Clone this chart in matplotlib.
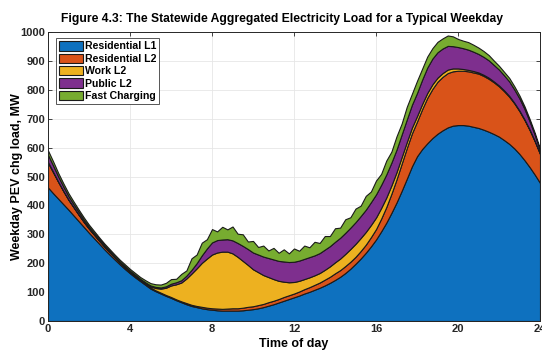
import numpy as np
import matplotlib
matplotlib.use("Agg")
import matplotlib.pyplot as plt

plt.rcParams['font.family'] = ['Liberation Sans', 'DejaVu Sans']
plt.rcParams['font.weight'] = 'bold'

# time of day, 15-minute steps
hours = np.arange(0, 24.01, 0.25)

residential_l1 = [
    462, 442, 423, 404, 385, 365, 345, 325, 305, 286, 267, 248, 230, 213, 196, 180,
    165, 151, 138, 125, 112, 103, 95, 87, 80, 72, 65, 58, 52, 48, 44, 41,
    39, 37, 36, 36, 36, 36, 37, 39, 41, 44, 48, 53, 58, 64, 70, 76,
    82, 88, 95, 101, 108, 115, 123, 132, 142, 153, 166, 181, 198, 216, 236, 258,
    282, 310, 340, 374, 410, 450, 492, 535, 570, 595, 615, 633, 648, 660, 670, 676,
    678, 678, 676, 672, 668, 662, 655, 647, 638, 626, 613, 597, 578, 556, 532, 506,
    478]

residential_l2 = [
    86, 72, 58, 45, 34, 28, 22, 17, 14, 12, 10, 9, 8, 7, 6, 6,
    5, 5, 4, 4, 4, 3, 3, 3, 3, 3, 3, 4, 4, 4, 5, 5,
    5, 6, 6, 7, 8, 8, 9, 10, 10, 11, 11, 12, 12, 12, 13, 13,
    13, 14, 15, 16, 17, 18, 20, 21, 23, 23, 24, 24, 24, 26, 28, 32,
    36, 44, 54, 66, 80, 94, 106, 114, 120, 138, 157, 170, 180, 185, 188, 188,
    188, 188, 188, 188, 188, 186, 183, 179, 174, 169, 163, 156, 148, 139, 128, 115,
    100]

work_l2 = [
    2, 2, 1, 1, 1, 1, 1, 1, 1, 1, 1, 1, 1, 1, 1, 1,
    1, 1, 1, 2, 4, 8, 14, 25, 40, 52, 65, 85, 108, 130, 152, 170,
    186, 194, 198, 197, 190, 178, 162, 145, 128, 114, 100, 87, 75, 63, 53, 45,
    40, 37, 35, 34, 33, 33, 34, 36, 38, 40, 42, 44, 45, 45, 44, 42,
    40, 37, 33, 29, 25, 23, 21, 20, 19, 18, 17, 16, 14, 13, 12, 10,
    8, 6, 5, 5, 4, 4, 4, 3, 3, 3, 3, 2, 2, 2, 2, 2,
    2]

public_l2 = [
    25, 22, 18, 15, 12, 10, 9, 7, 6, 5, 5, 4, 4, 3, 3, 3,
    3, 3, 3, 3, 3, 4, 4, 5, 6, 7, 8, 10, 13, 18, 26, 35,
    42, 43, 42, 43, 45, 48, 52, 55, 58, 61, 64, 66, 68, 69, 70, 70,
    70, 70, 70, 70, 69, 69, 70, 70, 71, 72, 73, 74, 75, 76, 77, 79,
    80, 80, 80, 79, 78, 78, 78, 79, 80, 84, 88, 89, 88, 85, 82, 77,
    74, 72, 70, 67, 64, 62, 60, 57, 55, 52, 50, 46, 42, 36, 28, 20,
    10]

fast_charging = [
    15, 14, 12, 11, 10, 9, 8, 8, 7, 7, 6, 6, 6, 6, 6, 6,
    6, 6, 6, 7, 8, 9, 10, 12, 16, 12, 22, 18, 40, 30, 44, 32,
    46, 30, 44, 34, 48, 32, 40, 26, 40, 26, 38, 26, 40, 28, 42, 30,
    46, 34, 46, 34, 47, 35, 47, 35, 47, 35, 47, 36, 47, 36, 48, 37,
    48, 38, 48, 38, 46, 38, 44, 38, 42, 38, 38, 36, 36, 35, 36, 34,
    28, 26, 26, 24, 22, 20, 18, 15, 13, 12, 12, 11, 10, 9, 8, 7,
    6]

labels = ['Residential L1', 'Residential L2', 'Work L2', 'Public L2', 'Fast Charging']
colors = ['#0E71BF', '#D95319', '#EDB120', '#7E2F8E', '#77AC30']

x_ticks = [0, 4, 8, 12, 16, 20, 24]
y_ticks = [0, 100, 200, 300, 400, 500, 600, 700, 800, 900, 1000]

fig = plt.figure(figsize=(5.42, 3.51), dpi=100)
ax = fig.add_axes([0.0886, 0.0855, 0.9077, 0.8233])

polys = ax.stackplot(hours, residential_l1, residential_l2, work_l2, public_l2, fast_charging,
                     colors=colors, labels=labels, edgecolor='#1a1a1a', linewidth=0.8, zorder=2)

ax.set_xlim(0, 24)
ax.set_ylim(0, 1000)
ax.set_xticks(x_ticks)
ax.set_yticks(y_ticks)
ax.tick_params(direction='in', length=3, labelsize=8, width=0.6, pad=2,
               top=True, right=True, colors='#262626')
for lab in ax.get_xticklabels() + ax.get_yticklabels():
    lab.set_fontweight('bold')
ax.grid(True, color='#e6e6e6', linewidth=0.6, zorder=0)
ax.set_axisbelow(True)
for s in ax.spines.values():
    s.set_linewidth(0.7)
    s.set_color('#262626')

ax.set_xlabel('Time of day', fontsize=9, fontweight='bold')
ax.xaxis.set_label_coords(0.5, -0.06)
ax.set_ylabel('Weekday PEV chg load, MW', fontsize=9, fontweight='bold')
ax.yaxis.set_label_coords(-0.05, 0.5)
fig.text(0.521, 0.947, 'Figure 4.3: The Statewide Aggregated Electricity Load for a Typical Weekday',
         ha='center', va='center', fontsize=8.7, fontweight='bold')

leg = ax.legend(loc='upper left', bbox_to_anchor=(0.012, 0.985),
                handlelength=2.3, handleheight=1.0, handletextpad=0.2, labelspacing=0.2,
                borderpad=0.25, borderaxespad=0.2, fancybox=False, framealpha=1,
                edgecolor='#555555', prop={'weight': 'bold', 'size': 7.6})
leg.get_frame().set_linewidth(0.7)

fig.savefig('out.png', dpi=100)
